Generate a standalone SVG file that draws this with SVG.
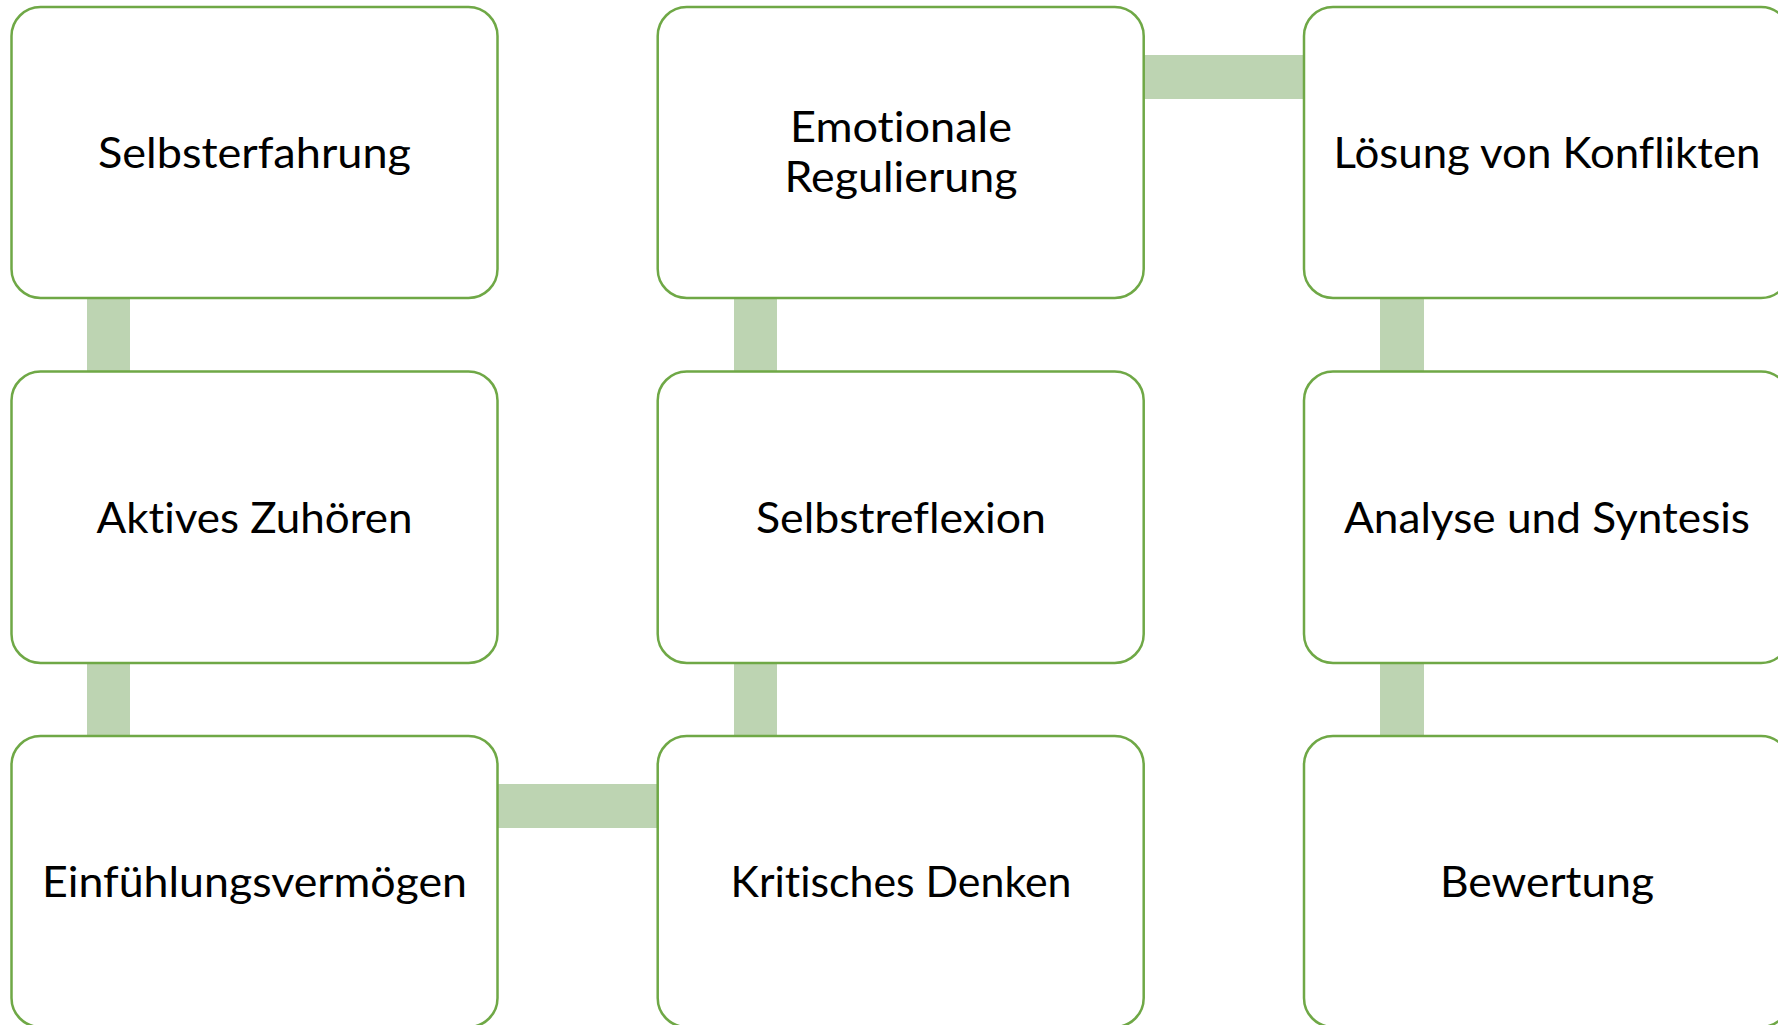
<svg xmlns="http://www.w3.org/2000/svg" width="1778" height="1025" viewBox="0 0 1778 1025">
<style>
.box{fill:#ffffff;stroke:#6FA846;stroke-width:2.5}
.con{fill:#BDD4B2;stroke:none}
.lbl{font-family:Lato,"Open Sans","Liberation Sans",sans-serif;font-size:43px;fill:#000000;text-anchor:middle;font-variant-ligatures:none;font-feature-settings:"liga" 0,"dlig" 0}
</style>
<rect width="1778" height="1025" fill="#ffffff"/>
<g id="connectors">
<rect class="con" x="87" y="296" width="43" height="78"/>
<rect class="con" x="87" y="661" width="43" height="77"/>
<rect class="con" x="734" y="296" width="43" height="78"/>
<rect class="con" x="734" y="661" width="43" height="77"/>
<rect class="con" x="1380" y="296" width="44" height="78"/>
<rect class="con" x="1380" y="661" width="44" height="77"/>
<rect class="con" x="495" y="784" width="165" height="44"/>
<rect class="con" x="1142" y="55" width="164" height="44"/>
</g>
<g id="n1"><rect class="box" x="11.5" y="7" width="486" height="291" rx="29"/><text class="lbl" x="254.5" y="167.5" textLength="313" lengthAdjust="spacingAndGlyphs">Selbsterfahrung</text></g>
<g id="n2"><rect class="box" x="11.5" y="371.5" width="486" height="291.5" rx="29"/><text class="lbl" x="254.5" y="532.5" textLength="316" lengthAdjust="spacingAndGlyphs">Aktives Zuhören</text></g>
<g id="n3"><rect class="box" x="11.5" y="736" width="486" height="291" rx="29"/><text class="lbl" x="254.5" y="897" textLength="425" lengthAdjust="spacingAndGlyphs">Einfühlungsvermögen</text></g>
<g id="n4"><rect class="box" x="657.7" y="7" width="486" height="291" rx="29"/><text class="lbl" x="901" y="142" textLength="222" lengthAdjust="spacingAndGlyphs">Emotionale</text><text class="lbl" x="901" y="192" textLength="233" lengthAdjust="spacingAndGlyphs">Regulierung</text></g>
<g id="n5"><rect class="box" x="657.7" y="371.5" width="486" height="291.5" rx="29"/><text class="lbl" x="901" y="532.5" textLength="290" lengthAdjust="spacingAndGlyphs">Selbstreflexion</text></g>
<g id="n6"><rect class="box" x="657.7" y="736" width="486" height="291" rx="29"/><text class="lbl" x="901" y="897" textLength="341" lengthAdjust="spacingAndGlyphs">Kritisches Denken</text></g>
<g id="n7"><rect class="box" x="1304" y="7" width="486" height="291" rx="29"/><text class="lbl" x="1547" y="167.5" textLength="427" lengthAdjust="spacingAndGlyphs">Lösung von Konflikten</text></g>
<g id="n8"><rect class="box" x="1304" y="371.5" width="486" height="291.5" rx="29"/><text class="lbl" x="1547" y="532.5" textLength="406" lengthAdjust="spacingAndGlyphs">Analyse und Syntesis</text></g>
<g id="n9"><rect class="box" x="1304" y="736" width="486" height="291" rx="29"/><text class="lbl" x="1547" y="897" textLength="214" lengthAdjust="spacingAndGlyphs">Bewertung</text></g>
</svg>
